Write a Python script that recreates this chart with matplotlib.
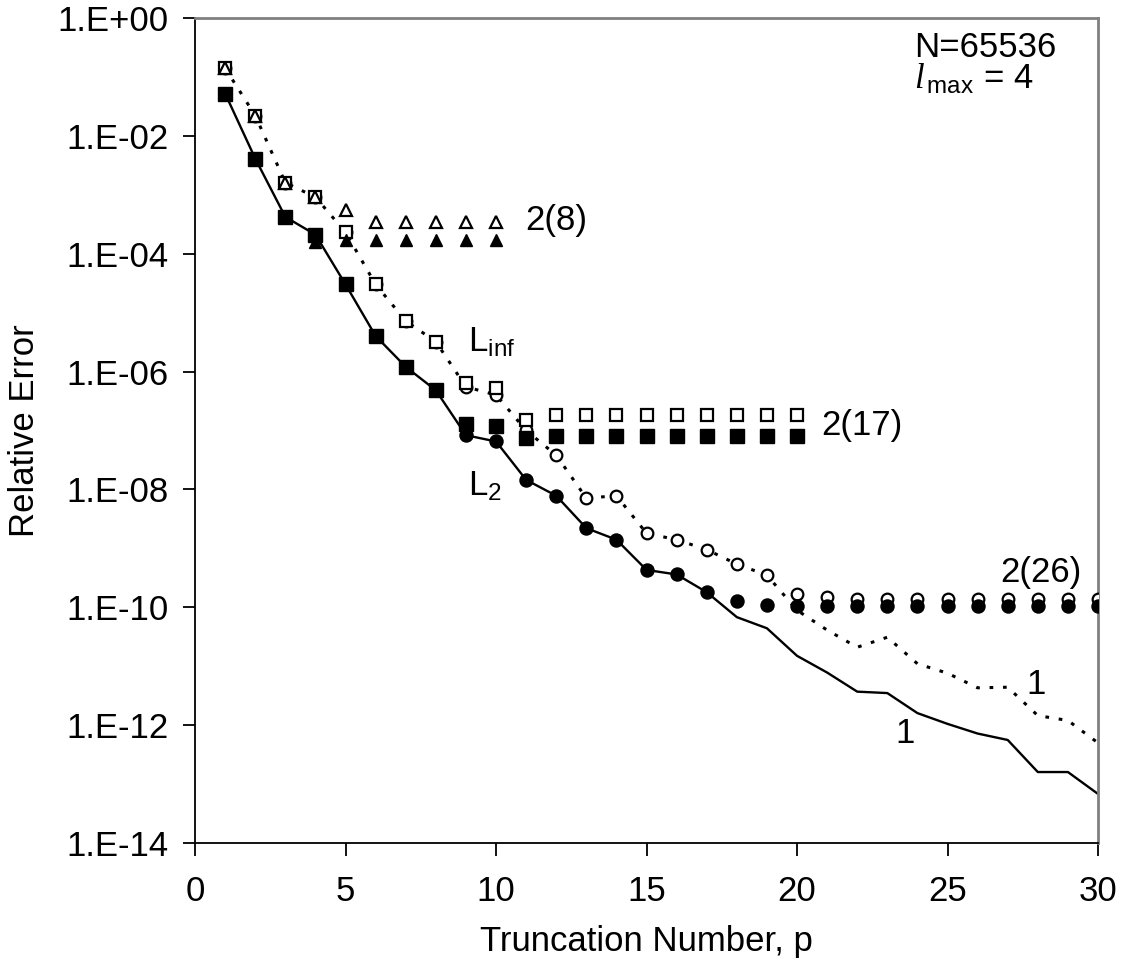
import matplotlib
matplotlib.use("Agg")
import matplotlib.pyplot as plt
from matplotlib.ticker import FixedLocator, NullLocator

plt.rcParams['font.family'] = ['Liberation Sans', 'DejaVu Sans']
plt.rcParams['mathtext.fontset'] = 'custom'
plt.rcParams['mathtext.rm'] = 'Liberation Sans'
plt.rcParams['mathtext.it'] = 'Liberation Serif:italic'
plt.rcParams['mathtext.default'] = 'regular'

p = list(range(1, 31))

# Series "1" (no truncation of the 2-sum), L2 (solid) and Linf (dotted)
s1_L2 = [5.2e-2, 4.1e-3, 4.2e-4, 2.1e-4, 3.0e-5, 4.0e-6, 1.2e-6, 4.8e-7, 8.3e-8, 6.5e-8,
         1.45e-8, 7.8e-9, 2.2e-9, 1.4e-9, 4.3e-10, 3.6e-10, 1.8e-10, 6.8e-11, 4.4e-11, 1.5e-11,
         7.8e-12, 3.7e-12, 3.5e-12, 1.6e-12, 1.05e-12, 7.2e-13, 5.6e-13, 1.6e-13, 1.6e-13, 6.8e-14]
s1_Linf = [1.4e-1, 2.2e-2, 1.6e-3, 9.1e-4, 2.3e-4, 3.0e-5, 7.2e-6, 3.2e-6, 5.5e-7, 4.0e-7,
           1.0e-7, 3.8e-8, 7.1e-9, 7.8e-9, 1.8e-9, 1.4e-9, 9.5e-10, 5.4e-10, 3.5e-10, 8.9e-11,
           4.1e-11, 2.1e-11, 3.1e-11, 1.1e-11, 7.6e-12, 4.3e-12, 4.4e-12, 1.45e-12, 1.2e-12, 5.0e-13]

# Series "2(8)" : p = 1..10
p8 = list(range(1, 11))
s8_L2 = [5.2e-2, 4.1e-3, 4.2e-4, 1.6e-4, 1.7e-4, 1.7e-4, 1.7e-4, 1.7e-4, 1.7e-4, 1.7e-4]
s8_Linf = [1.4e-1, 2.2e-2, 1.6e-3, 9.1e-4, 5.6e-4, 3.4e-4, 3.4e-4, 3.4e-4, 3.4e-4, 3.4e-4]

# Series "2(17)" : p = 1..20
p17 = list(range(1, 21))
s17_L2 = [5.2e-2, 4.1e-3, 4.2e-4, 2.1e-4, 3.0e-5, 4.0e-6, 1.2e-6, 4.8e-7, 1.3e-7, 1.17e-7,
          7.4e-8, 7.9e-8, 7.9e-8, 7.9e-8, 7.9e-8, 7.9e-8, 7.9e-8, 7.9e-8, 7.9e-8, 7.9e-8]
s17_Linf = [1.4e-1, 2.2e-2, 1.6e-3, 9.1e-4, 2.3e-4, 3.0e-5, 7.2e-6, 3.2e-6, 6.5e-7, 5.2e-7,
            1.5e-7, 1.85e-7, 1.85e-7, 1.85e-7, 1.85e-7, 1.85e-7, 1.85e-7, 1.85e-7, 1.85e-7, 1.85e-7]

# Series "2(26)" : p = 1..30
s26_L2 = [5.2e-2, 4.1e-3, 4.2e-4, 2.1e-4, 3.0e-5, 4.0e-6, 1.2e-6, 4.8e-7, 8.3e-8, 6.5e-8,
          1.45e-8, 7.8e-9, 2.2e-9, 1.4e-9, 4.3e-10, 3.6e-10, 1.8e-10, 1.3e-10, 1.1e-10, 1.05e-10,
          1.05e-10, 1.05e-10, 1.05e-10, 1.05e-10, 1.05e-10, 1.05e-10, 1.05e-10, 1.05e-10, 1.05e-10, 1.05e-10]
s26_Linf = [1.4e-1, 2.2e-2, 1.6e-3, 9.1e-4, 2.3e-4, 3.0e-5, 7.2e-6, 3.2e-6, 5.5e-7, 4.0e-7,
            1.0e-7, 3.8e-8, 7.1e-9, 7.8e-9, 1.8e-9, 1.4e-9, 9.5e-10, 5.4e-10, 3.5e-10, 1.66e-10,
            1.5e-10, 1.38e-10, 1.38e-10, 1.38e-10, 1.38e-10, 1.38e-10, 1.38e-10, 1.38e-10, 1.38e-10, 1.38e-10]

yticks = [1e0, 1e-2, 1e-4, 1e-6, 1e-8, 1e-10, 1e-12, 1e-14]
ytick_labels = ['1.E+00', '1.E-02', '1.E-04', '1.E-06', '1.E-08', '1.E-10', '1.E-12', '1.E-14']
xticks = [0, 5, 10, 15, 20, 25, 30]

fig = plt.figure(figsize=(11.21, 9.73), dpi=100)
ax = fig.add_axes([0.174, 0.1336, 0.8055, 0.848])

FS = 25
ms_sq = 9.5
ms_c = 8.4
ms_t = 8.0

# lines
ax.plot(p, s1_Linf, color='black', lw=2.2, linestyle=(0, (1.2, 3.2)), zorder=2)
ax.plot(p, s1_L2, color='black', lw=1.7, linestyle='-', zorder=2)

# open markers (Linf)
ax.plot(p, s26_Linf, ls='none', marker='o', ms=ms_c, mfc='white', mec='black', mew=1.6, zorder=3)
ax.plot(p17, s17_Linf, ls='none', marker='s', ms=ms_sq - 1.5, mfc='white', mec='black', mew=1.6, zorder=3)
ax.plot(p8, s8_Linf, ls='none', marker='^', ms=ms_t, mfc='white', mec='black', mew=1.6, zorder=3)

# filled markers (L2)
ax.plot(p8, s8_L2, ls='none', marker='^', ms=ms_t, mfc='black', mec='black', zorder=4)
ax.plot(p, s26_L2, ls='none', marker='o', ms=ms_c + 1.0, mfc='black', mec='black', zorder=4)
ax.plot(p17, s17_L2, ls='none', marker='s', ms=ms_sq, mfc='black', mec='black', zorder=5)

ax.set_yscale('log')
ax.set_xlim(0, 30)
ax.set_ylim(1e-14, 1e0)
ax.yaxis.set_major_locator(FixedLocator(yticks))
ax.yaxis.set_minor_locator(NullLocator())
ax.set_yticklabels(ytick_labels)
ax.set_xticks(xticks)
ax.tick_params(axis='both', direction='out', length=9, width=1.3, labelsize=FS, colors='black')
ax.tick_params(axis='x', pad=14)
ax.tick_params(axis='y', pad=10)
ax.tick_params(axis='both', which='minor', length=0)

for side in ['left', 'bottom']:
    ax.spines[side].set_color('black')
    ax.spines[side].set_linewidth(1.3)
for side in ['top', 'right']:
    ax.spines[side].set_color('#808080')
    ax.spines[side].set_linewidth(2.0)

ax.set_xlabel('Truncation Number, p', fontsize=FS, labelpad=12)
ax.set_ylabel('Relative Error', fontsize=FS, labelpad=12)

# annotations
ax.text(10.96, 10**-3.43, '2(8)', fontsize=FS, ha='left', va='center')
ax.text(9.07, 10**-5.50, 'L$_{inf}$', fontsize=FS, ha='left', va='center')
ax.text(9.07, 10**-7.95, 'L$_{2}$', fontsize=FS, ha='left', va='center')
ax.text(20.8, 10**-6.91, '2(17)', fontsize=FS, ha='left', va='center')
ax.text(26.74, 10**-9.41, '2(26)', fontsize=FS, ha='left', va='center')
ax.text(27.62, 10**-11.31, '1', fontsize=FS, ha='left', va='center')
ax.text(23.27, 10**-12.14, '1', fontsize=FS, ha='left', va='center')
ax.text(23.9, 10**-0.655, 'N=65536', fontsize=FS, ha='left', va='baseline')
ax.text(23.9, 10**-1.19, r'$\mathit{l}_{\,\mathrm{max}}$ = 4', fontsize=FS, ha='left', va='baseline')

fig.savefig('out.png', dpi=100)
